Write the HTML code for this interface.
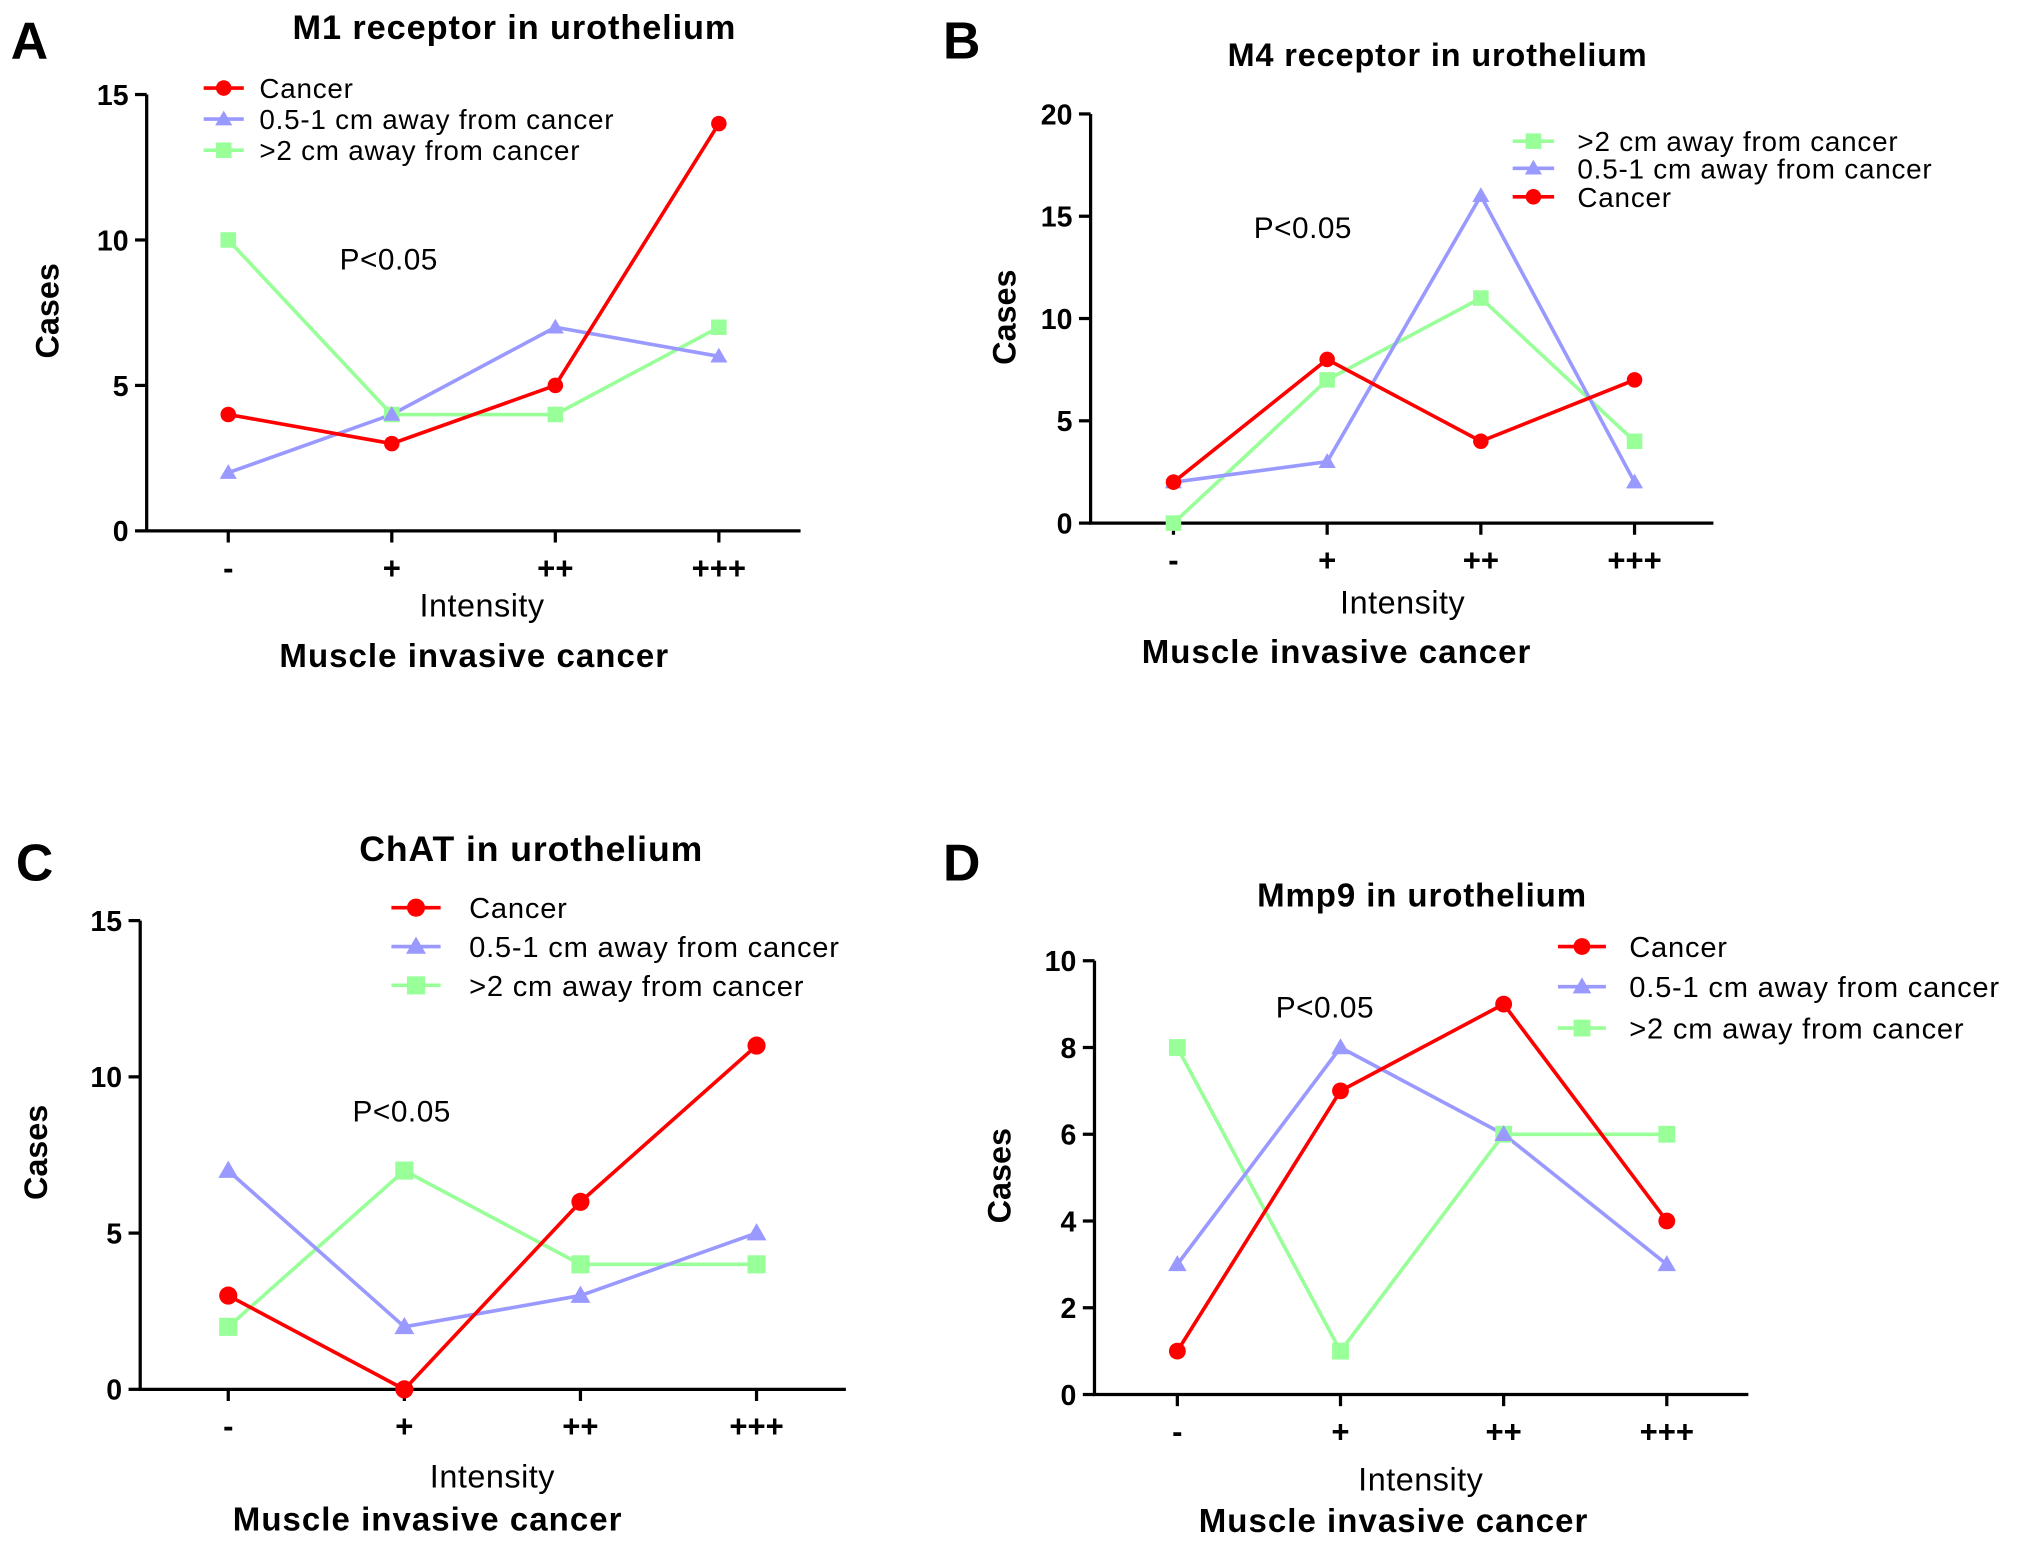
<!DOCTYPE html>
<html><head><meta charset="utf-8"><style>
html,body{margin:0;padding:0;background:#fff;}
svg{display:block;font-family:"Liberation Sans",Arial,sans-serif;}
</style></head><body>
<svg id="fig" width="2031" height="1546" viewBox="0 0 1568 1194" xmlns="http://www.w3.org/2000/svg"></svg>
<script>
const categories = ["-", "+", "++", "+++"];
const seriesNames = ["Cancer", "0.5-1 cm away from cancer", ">2 cm away from cancer"];
const aCancer = [4, 3, 5, 14];
const aNear = [2, 4, 7, 6];
const aFar = [10, 4, 4, 7];
const bCancer = [2, 8, 4, 7];
const bNear = [2, 3, 16, 2];
const bFar = [0, 7, 11, 4];
const cCancer = [3, 0, 6, 11];
const cNear = [7, 2, 3, 5];
const cFar = [2, 7, 4, 4];
const dCancer = [1, 7, 9, 4];
const dNear = [3, 8, 6, 3];
const dFar = [8, 1, 6, 6];
const aTicks = [0, 5, 10, 15];
const bTicks = [0, 5, 10, 15, 20];
const cTicks = [0, 5, 10, 15];
const dTicks = [0, 2, 4, 6, 8, 10];

const NS = "http://www.w3.org/2000/svg";
const svg = document.getElementById("fig");
function mk(tag, attrs, parent, text) {
  const e = document.createElementNS(NS, tag);
  for (const k in attrs) e.setAttribute(k, attrs[k]);
  if (text !== undefined) e.textContent = text;
  (parent || svg).appendChild(e);
  return e;
}
const COLORS = { cancer: "#ff0000", near: "#9999ff", far: "#99ff99" };
function marker(g, kind, x, y, s) {
  let m;
  if (kind === "cancer") m = mk("circle", { cx: x, cy: y, r: s, fill: COLORS.cancer }, g);
  else if (kind === "near") m = mk("polygon", { points: `${x},${y - s * 1.1} ${x - s * 1.1},${y + s * 0.8} ${x + s * 1.1},${y + s * 0.8}`, fill: COLORS.near }, g);
  else m = mk("rect", { x: x - s, y: y - s, width: 2 * s, height: 2 * s, fill: COLORS.far }, g);
  
  
}
function panel(p) {
  const g = mk("g", {});
  
  
  const ymax = p.ticks[p.ticks.length - 1];
  const ys = v => p.y0 - (v / ymax) * (p.y0 - p.ytop);
  const xs = i => p.x0c + i * p.dx;
  const t = mk("text", { x: p.lx, y: p.ly, "font-size": 40, "font-weight": "bold" }, g, p.letter);
   
  const tt = mk("text", { x: p.tx, y: p.ty, "font-size": p.tfs, "font-weight": "bold", "text-anchor": "middle", "letter-spacing": 0.7 }, g, p.title);
   
  const ax = mk("path", { d: `M${p.ax},${p.ytop} V${p.y0} H${p.xend}`, stroke: "#000", "stroke-width": 2.5, fill: "none" }, g);
   
  p.ticks.forEach(v => {
    mk("line", { x1: p.ax - 9, x2: p.ax, y1: ys(v), y2: ys(v), stroke: "#000", "stroke-width": 2.5 }, g);
    const l = mk("text", { x: p.ax - 14, y: ys(v) + 8, "font-size": 22, "font-weight": "bold", "text-anchor": "end" }, g, v);
     
  });
  categories.forEach((c, i) => {
    mk("line", { x1: xs(i), x2: xs(i), y1: p.y0, y2: p.y0 + 9, stroke: "#000", "stroke-width": 2.5 }, g);
    const l = mk("text", { x: xs(i), y: p.y0 + 37, "font-size": 24, "font-weight": "bold", "text-anchor": "middle" }, g, c);
     
  });
  const yl = mk("text", { x: p.cx, y: p.cy, "font-size": 25, "font-weight": "bold", "text-anchor": "middle", transform: `rotate(-90 ${p.cx} ${p.cy})` }, g, "Cases");
   
  const xl = mk("text", { x: p.ix, y: p.iy, "font-size": 25, "text-anchor": "middle", "letter-spacing": 0.4 }, g, "Intensity");
   
  const ml = mk("text", { x: p.mx, y: p.my, "font-size": 25.5, "font-weight": "bold", "text-anchor": "middle", "letter-spacing": 0.8 }, g, "Muscle invasive cancer");
   
  const pv = mk("text", { x: p.px, y: p.py, "font-size": 23, "letter-spacing": 0.4 }, g, "P<0.05");
   
  p.series.forEach(s => {
    const pts = s.vals.map((v, i) => `${xs(i)},${ys(v)}`).join(" ");
    const pl = mk("polyline", { points: pts, stroke: COLORS[s.kind], "stroke-width": 2.8, fill: "none" }, g);
     
  });
  p.series.forEach(s => s.vals.forEach((v, i) => marker(g, s.kind, xs(i), ys(v), p.ms)));
  p.legend.forEach((kind, j) => {
    const y = p.legY[j];
    const lg = mk("g", {}, g);
     
    mk("line", { x1: p.legX1, x2: p.legX2, y1: y, y2: y, stroke: COLORS[kind], "stroke-width": 2.8 }, lg);
    marker(lg, kind, (p.legX1 + p.legX2) / 2, y, p.ms);
    const name = kind === "cancer" ? seriesNames[0] : kind === "near" ? seriesNames[1] : seriesNames[2];
    mk("text", { x: p.legTx, y: y + p.lfs * 0.36, "font-size": p.lfs, "letter-spacing": 0.6 }, lg, name);
  });
}
panel({ letter: "A", lx: 8, ly: 45, title: "M1 receptor in urothelium", tx: 397, ty: 30, tfs: 26.5,
  ax: 113, ytop: 73, y0: 410, xend: 618, x0c: 176, dx: 126.3, ticks: aTicks, ms: 6,
  cx: 45, cy: 240, ix: 372, iy: 476, mx: 366, my: 515, px: 262, py: 208,
  series: [{ kind: "far", vals: aFar }, { kind: "near", vals: aNear }, { kind: "cancer", vals: aCancer }],
  legend: ["cancer", "near", "far"], legY: [68, 92, 116], legX1: 157, legX2: 188, legTx: 200, lfs: 21.5 });
panel({ letter: "B", lx: 728, ly: 45, title: "M4 receptor in urothelium", tx: 1110, ty: 51, tfs: 25,
  ax: 842, ytop: 88, y0: 404, xend: 1323, x0c: 906, dx: 118.7, ticks: bTicks, ms: 6,
  cx: 784, cy: 245, ix: 1083, iy: 474, mx: 1032, my: 512, px: 968, py: 184,
  series: [{ kind: "far", vals: bFar }, { kind: "near", vals: bNear }, { kind: "cancer", vals: bCancer }],
  legend: ["far", "near", "cancer"], legY: [109, 130, 152], legX1: 1168, legX2: 1200, legTx: 1218, lfs: 21.5 });
panel({ letter: "C", lx: 12, ly: 680, title: "ChAT in urothelium", tx: 410, ty: 665, tfs: 27.5,
  ax: 108, ytop: 711, y0: 1073, xend: 653, x0c: 176, dx: 136, ticks: cTicks, ms: 7,
  cx: 36, cy: 890, ix: 380, iy: 1149, mx: 330, my: 1182, px: 272, py: 866,
  series: [{ kind: "far", vals: cFar }, { kind: "near", vals: cNear }, { kind: "cancer", vals: cCancer }],
  legend: ["cancer", "near", "far"], legY: [701, 731, 761], legX1: 302, legX2: 340, legTx: 362, lfs: 22.5 });
panel({ letter: "D", lx: 728, ly: 680, title: "Mmp9 in urothelium", tx: 1098, ty: 700, tfs: 25.5,
  ax: 845, ytop: 742, y0: 1077, xend: 1350, x0c: 909, dx: 126, ticks: dTicks, ms: 6.5,
  cx: 780, cy: 908, ix: 1097, iy: 1151, mx: 1076, my: 1183, px: 985, py: 786,
  series: [{ kind: "far", vals: dFar }, { kind: "near", vals: dNear }, { kind: "cancer", vals: dCancer }],
  legend: ["cancer", "near", "far"], legY: [731, 762, 794], legX1: 1203, legX2: 1240, legTx: 1258, lfs: 22.5 });
</script>
</body></html>
